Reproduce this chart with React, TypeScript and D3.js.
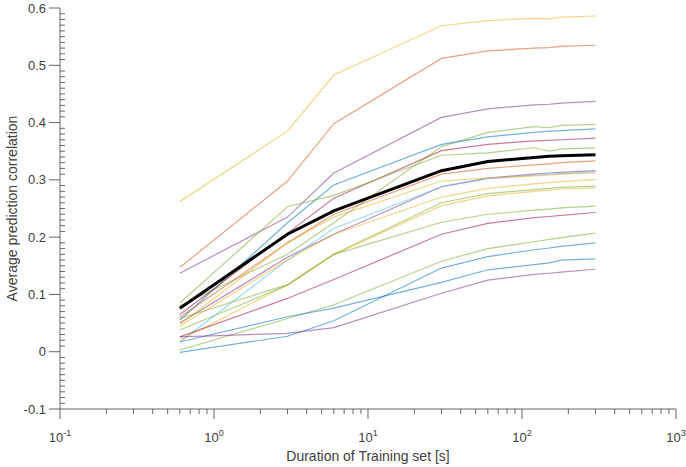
import React from "react";
import * as d3 from "d3";

// training durations in seconds
const durations = [0.6, 3, 6, 30, 60, 120, 150, 180, 300];

// per-subject curves
const s01 = [0.262, 0.385, 0.483, 0.569, 0.578, 0.582, 0.581, 0.584, 0.586];
const s02 = [0.147, 0.298, 0.398, 0.512, 0.525, 0.530, 0.531, 0.533, 0.535];
const s03 = [0.137, 0.235, 0.312, 0.409, 0.424, 0.431, 0.432, 0.434, 0.437];
const s04 = [0.080, 0.170, 0.225, 0.358, 0.383, 0.393, 0.391, 0.395, 0.397];
const s05 = [0.055, 0.225, 0.291, 0.362, 0.375, 0.383, 0.385, 0.386, 0.389];
const s06 = [0.065, 0.207, 0.268, 0.351, 0.362, 0.368, 0.369, 0.370, 0.373];
const s07 = [0.085, 0.253, 0.273, 0.343, 0.347, 0.356, 0.350, 0.354, 0.356];
const s08 = [0.060, 0.190, 0.240, 0.310, 0.320, 0.326, 0.328, 0.330, 0.333];
const s09 = [0.050, 0.165, 0.205, 0.288, 0.303, 0.310, 0.312, 0.313, 0.316];
const s10 = [0.017, 0.160, 0.215, 0.288, 0.302, 0.308, 0.310, 0.311, 0.314];
const s11 = [0.048, 0.190, 0.235, 0.298, 0.303, 0.307, 0.308, 0.310, 0.312];
const s12 = [0.045, 0.160, 0.205, 0.270, 0.285, 0.293, 0.295, 0.297, 0.301];
const s13 = [0.058, 0.117, 0.170, 0.260, 0.276, 0.283, 0.285, 0.287, 0.289];
const s14 = [0.020, 0.117, 0.170, 0.255, 0.272, 0.280, 0.282, 0.284, 0.286];
const s15 = [0.038, 0.116, 0.170, 0.226, 0.240, 0.247, 0.249, 0.251, 0.254];
const s16 = [0.026, 0.093, 0.126, 0.205, 0.224, 0.234, 0.236, 0.238, 0.243];
const s17 = [0.003, 0.058, 0.082, 0.158, 0.180, 0.192, 0.196, 0.199, 0.207];
const s18 = [-0.001, 0.027, 0.054, 0.146, 0.166, 0.178, 0.181, 0.184, 0.190];
const s19 = [0.017, 0.061, 0.076, 0.121, 0.143, 0.152, 0.155, 0.160, 0.162];
const s20 = [0.026, 0.032, 0.042, 0.102, 0.125, 0.135, 0.137, 0.139, 0.144];
const meanCurve = [0.076, 0.205, 0.246, 0.316, 0.332, 0.339, 0.341, 0.342, 0.344];

const subjects = [s01, s02, s03, s04, s05, s06, s07, s08, s09, s10,
  s11, s12, s13, s14, s15, s16, s17, s18, s19, s20];

const subjectColors = [
  "#EDB120", "#D95319", "#7E2F8E", "#77AC30", "#0072BD", "#A2142F", "#77AC30",
  "#D95319", "#7E2F8E", "#4DBEEE", "#EDB120", "#EDB120", "#77AC30", "#EDB120",
  "#77AC30", "#A2142F", "#77AC30", "#0072BD", "#0072BD", "#7E2F8E",
];

const yTicks = [-0.1, 0, 0.1, 0.2, 0.3, 0.4, 0.5, 0.6];
const yTickLabels = ["-0.1", "0", "0.1", "0.2", "0.3", "0.4", "0.5", "0.6"];
const xTicks = [0.1, 1, 10, 100, 1000];
const xTickExp = ["-1", "0", "1", "2", "3"];

const W = 686;
const H = 467;
const left = 60;
const right = 676;
const top = 8;
const bottom = 409;
const axisColor = "#404040";
const font = "'Liberation Sans', Arial, Helvetica, sans-serif";

export default function App() {
  const x = d3.scaleLog().domain([0.1, 1000]).range([left, right]);
  const y = d3.scaleLinear().domain([-0.1, 0.6]).range([bottom, top]);

  const line = d3
    .line<number>()
    .x((_, i) => x(durations[i]))
    .y((d) => y(d));

  const yMinor = d3
    .range(-10, 61)
    .filter((k) => k % 10 !== 0)
    .map((k) => k / 100);

  const xMinor: number[] = [];
  for (let e = -1; e < 3; e++) {
    for (let k = 2; k <= 9; k++) xMinor.push(k * Math.pow(10, e));
  }

  return (
    <svg
      width={W}
      height={H}
      style={{ position: "absolute", left: 0, top: 0, background: "#fff" }}
      fontFamily={font}
    >
      <g fill="none">
        {subjects.map((s, i) => (
          <path
            key={i}
            d={line(s) || ""}
            stroke={subjectColors[i]}
            strokeOpacity={0.55}
            strokeWidth={1.2}
          />
        ))}
        <path d={line(meanCurve) || ""} stroke="#000" strokeWidth={3} />
      </g>

      {/* y axis */}
      <g stroke={axisColor} strokeWidth={0.8}>
        <line x1={left} x2={left} y1={top} y2={bottom} />
        {yTicks.map((t) => (
          <line key={t} x1={left - 11} x2={left} y1={y(t)} y2={y(t)} />
        ))}
        {yMinor.map((t) => (
          <line key={t} x1={left} x2={left + 5} y1={y(t)} y2={y(t)} />
        ))}
      </g>
      <g fill={axisColor} fontSize={13} textAnchor="end">
        {yTicks.map((t, i) => (
          <text key={t} x={left - 14} y={y(t) + 4.5}>
            {yTickLabels[i]}
          </text>
        ))}
      </g>

      {/* x axis */}
      <g stroke={axisColor} strokeWidth={0.8}>
        <line x1={left} x2={right} y1={bottom} y2={bottom} />
        {xTicks.map((t) => (
          <line key={t} x1={x(t)} x2={x(t)} y1={bottom} y2={bottom + 10} />
        ))}
        {xMinor.map((t) => (
          <line key={t} x1={x(t)} x2={x(t)} y1={bottom} y2={bottom + 5} />
        ))}
      </g>
      <g fill={axisColor} fontSize={13} textAnchor="middle">
        {xTicks.map((t, i) => (
          <text key={t} x={x(t)} y={bottom + 33}>
            10
            <tspan fontSize={9} dy={-6}>
              {xTickExp[i]}
            </tspan>
          </text>
        ))}
      </g>

      <text
        x={(left + right) / 2}
        y={461}
        fontSize={14}
        fill={axisColor}
        textAnchor="middle"
      >
        Duration of Training set [s]
      </text>
      <text
        transform={`translate(17,${(top + bottom) / 2}) rotate(-90)`}
        fontSize={14}
        fill={axisColor}
        textAnchor="middle"
      >
        Average prediction correlation
      </text>
    </svg>
  );
}
